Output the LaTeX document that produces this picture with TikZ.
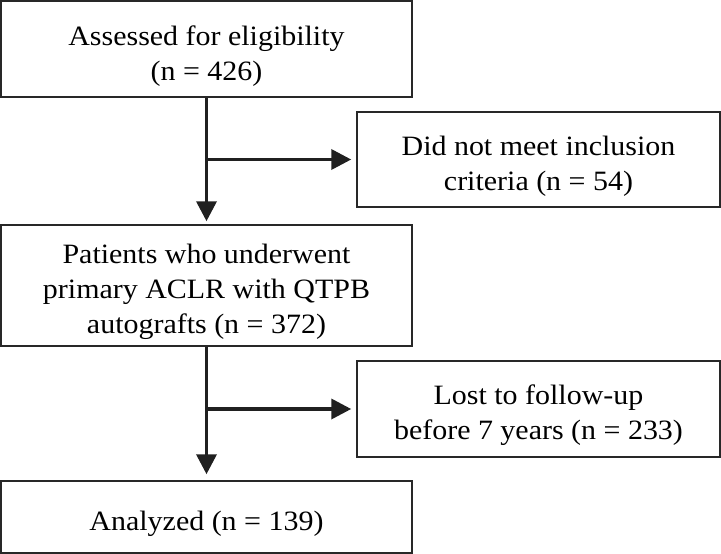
\documentclass[tikz,border=0pt]{standalone}
\usepackage{fontspec}
\setmainfont[FakeStretch=1.07]{Liberation Serif}
\usepackage{xcolor}
\usepackage{tikz}
\usetikzlibrary{arrows.meta}
\definecolor{boxline}{RGB}{40, 40, 40}
\newcommand{\boxstrut}{\rule{0pt}{33pt}}

\begin{document}
\begin{tikzpicture}[x=1pt,y=-1pt,
    flowbox/.style={draw=boxline, line width=1.5pt, align=center, inner sep=0pt,
        font=\fontsize{28}{35}\selectfont},
    flowarrow/.style={draw=boxline!80!black, line width=3.6pt, -{Triangle[length=20pt,width=20pt]}}]
            \useasboundingbox (0,0) rectangle (721,554);
            \node[flowbox, minimum width=411pt, minimum height=96pt] (assess) at (206.5,49) {\boxstrut Assessed for eligibility\\(n = 426)};
            \node[flowbox, minimum width=363pt, minimum height=95pt] (excluded) at (538.5,159.5) {\boxstrut Did not meet inclusion\\criteria (n = 54)};
            \node[flowbox, minimum width=411pt, minimum height=121pt] (patients) at (206.5,285.5) {\boxstrut Patients who underwent\\primary ACLR with QTPB\\autografts (n = 372)};
            \node[flowbox, minimum width=363pt, minimum height=96pt] (lost) at (538.5,409) {\boxstrut Lost to follow-up\\before 7 years (n = 233)};
            \node[flowbox, minimum width=411pt, minimum height=72pt] (analyzed) at (206.5,517) {\boxstrut Analyzed (n = 139)};
            \draw[flowarrow, shorten >=3pt] (assess.south) -- (patients.north);
            \draw[flowarrow, shorten >=5pt] (assess.south |- excluded.west) -- (excluded.west);
            \draw[flowarrow, shorten >=6pt] (patients.south) -- (analyzed.north);
            \draw[flowarrow, shorten >=5pt] (patients.south |- lost.west) -- (lost.west);
        \end{tikzpicture}
\end{document}
